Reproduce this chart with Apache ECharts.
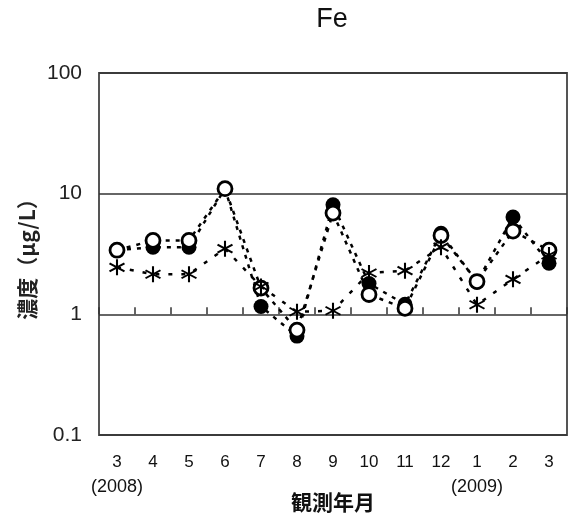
<!DOCTYPE html>
<html>
<head>
<meta charset="utf-8">
<script src="https://cdn.jsdelivr.net/npm/echarts@6/dist/echarts.min.js"></script>
<style>
  html, body { margin: 0; padding: 0; background: #fff; }
  #chart { width: 571px; height: 519px; }
</style>
</head>
<body>
<div id="chart"></div>
<script>
// Observation months, March 2008 – March 2009
var months = ['3', '4', '5', '6', '7', '8', '9', '10', '11', '12', '1', '2', '3'];
var yearNotes = ['(2008)', '', '', '', '', '', '', '', '', '', '(2009)', '', ''];
var yTicks = [0.1, 1, 10, 100];

// Fe concentration (µg/L) at three sampling points
var filledSeries = [3.4, 3.6, 3.6, 11.0, 1.16, 0.66, 8.1, 1.8, 1.21, 4.7, 1.85, 6.4, 2.65];
var openSeries   = [3.4, 4.1, 4.1, 11.0, 1.65, 0.74, 6.9, 1.46, 1.12, 4.5, 1.87, 4.9, 3.4];
var starSeries   = [2.45, 2.15, 2.15, 3.5, 1.7, 1.05, 1.07, 2.2, 2.3, 3.6, 1.2, 1.95, 3.1];

// six-armed asterisk marker built from three thin bars
var asterisk = 'path://M-0.12,-1L0.12,-1L0.12,1L-0.12,1Z' +
  'M0.806,-0.604L0.926,-0.396L-0.806,0.604L-0.926,0.396Z' +
  'M-0.926,-0.396L-0.806,-0.604L0.926,0.396L0.806,0.604Z';

var gridTop = 73, gridBottom = 84, chartH = 519;
var plotH = chartH - gridTop - gridBottom;

var chart = echarts.init(document.getElementById('chart'));
chart.setOption({
  animation: false,
  backgroundColor: '#fff',
  title: {
    text: 'Fe',
    left: 327,
    textAlign: 'center',
    top: 1,
    textStyle: { fontFamily: 'Liberation Sans, Arial', fontSize: 27, fontWeight: 'normal', color: '#111' }
  },
  grid: {
    left: 99, right: 4, top: gridTop, bottom: gridBottom,
    containLabel: false,
    outerBoundsMode: 'none',
    show: true, borderColor: '#555', borderWidth: 2, backgroundColor: 'transparent'
  },
  xAxis: [{
    type: 'category',
    data: months,
    boundaryGap: true,
    axisLine: { show: false },
    axisTick: { show: false },
    axisLabel: {
      interval: 0,
      margin: 15,
      color: '#111',
      formatter: function (v, i) {
        return yearNotes[i] ? '{m|' + v + '}\n{yr|' + yearNotes[i] + '}' : '{m|' + v + '}';
      },
      rich: {
        m: { fontFamily: 'Liberation Sans, Arial', fontSize: 17, color: '#111', lineHeight: 24 },
        yr: { fontFamily: 'Liberation Sans, Arial', fontSize: 18, color: '#111', lineHeight: 26 }
      }
    },
    name: '観測年月',
    nameLocation: 'middle',
    nameGap: 57,
    nameMoveOverlap: false,
    nameTextStyle: { fontFamily: 'Noto Sans CJK JP', fontSize: 21, fontWeight: 'bold', color: '#111', verticalAlign: 'top' }
  }, {
    // tick marks along the 1 µg/L line
    type: 'category',
    data: months,
    boundaryGap: true,
    position: 'bottom',
    offset: -plotH / 3,
    axisLine: { show: false },
    axisTick: { show: true, interval: 0, inside: true, length: 7, lineStyle: { color: '#333', width: 1.5 } },
    axisLabel: { show: false }
  }],
  yAxis: {
    type: 'log',
    logBase: 10,
    min: 0.1,
    max: 100,
    axisLine: { show: false },
    axisTick: { show: false },
    splitLine: { show: true, lineStyle: { color: '#333', width: 1.5 } },
    axisLabel: {
      margin: 17,
      fontFamily: 'Liberation Sans, Arial',
      fontSize: 21,
      color: '#222',
      formatter: function (v) {
        for (var i = 0; i < yTicks.length; i++) {
          if (Math.abs(v - yTicks[i]) < yTicks[i] * 1e-6) return String(yTicks[i]);
        }
        return '';
      }
    },
    name: '濃度（μg/L）',
    nameLocation: 'middle',
    nameRotate: 90,
    nameGap: 61,
    nameMoveOverlap: false,
    nameTextStyle: { fontFamily: 'Noto Sans CJK JP', fontSize: 21, fontWeight: 'bold', color: '#222' }
  },
  series: [{
    name: 'filled',
    type: 'line',
    data: filledSeries,
    symbol: 'circle',
    symbolSize: 15,
    itemStyle: { color: '#000' },
    lineStyle: { color: '#000', width: 2.5, type: [4, 6] },
    z: 2
  }, {
    name: 'open',
    type: 'line',
    data: openSeries,
    symbol: 'circle',
    symbolSize: 14,
    itemStyle: { color: '#fff', borderColor: '#000', borderWidth: 2.8 },
    lineStyle: { color: '#000', width: 2.5, type: [4, 6] },
    z: 3
  }, {
    name: 'star',
    type: 'line',
    data: starSeries,
    symbol: asterisk,
    symbolSize: 16,
    itemStyle: { color: '#000' },
    lineStyle: { color: '#000', width: 2.5, type: [4, 9] },
    z: 4
  }]
});
</script>
</body>
</html>
